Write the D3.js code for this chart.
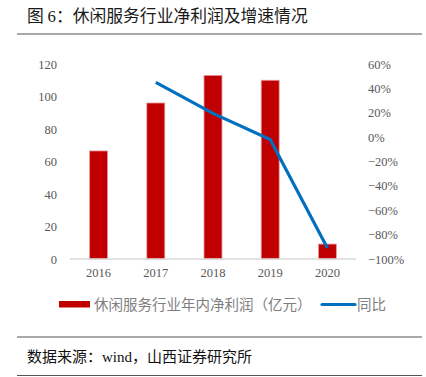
<!DOCTYPE html>
<html>
<head>
<meta charset="utf-8">
<script src="https://cdn.jsdelivr.net/npm/d3@7"></script>
<style>
  body { margin: 0; background: #fff; }
  .tick text { font-family: "Liberation Serif", "DejaVu Serif", serif; font-size: 12.5px; fill: #595959; }
  .cn { font-family: "Noto Sans CJK SC", sans-serif; }
</style>
</head>
<body>
<div id="chart"></div>
<script>
// data
var years = ["2016", "2017", "2018", "2019", "2020"];
var profit = [66.5, 96, 113, 110, 9.2];        // 亿元
var yoy = [null, 45, 19.5, -2, -91];            // %
var leftTicks = [0, 20, 40, 60, 80, 100, 120];
var rightTicks = [-100, -80, -60, -40, -20, 0, 20, 40, 60];

var W = 426, H = 377;
var margin = {top: 64, right: 70, bottom: 118, left: 70},
    width = 356 - margin.left,
    height = 259 - margin.top;

var svg = d3.select("#chart").append("svg")
    .attr("width", W).attr("height", H);

// title + rules
var title = svg.append("text").attr("class", "cn")
    .attr("x", 27).attr("y", 22)
    .style("font-size", "16.8px").style("fill", "#1a1a1a");
title.append("tspan").text("图 ");
title.append("tspan").style("font-family", "'Liberation Serif', serif").text("6");
title.append("tspan").text("：休闲服务行业净利润及增速情况");
svg.append("line").attr("x1", 17).attr("x2", 422).attr("y1", 34).attr("y2", 34)
    .style("stroke", "#555").style("stroke-width", 1.2);
svg.append("line").attr("x1", 17).attr("x2", 422).attr("y1", 337).attr("y2", 337)
    .style("stroke", "#555").style("stroke-width", 1.2);
svg.append("line").attr("x1", 17).attr("x2", 422).attr("y1", 375.5).attr("y2", 375.5)
    .style("stroke", "#555").style("stroke-width", 1.2);
var src = svg.append("text").attr("class", "cn")
    .attr("x", 27).attr("y", 362)
    .style("font-size", "15px").style("fill", "#111");
src.append("tspan").text("数据来源：");
src.append("tspan").style("font-family", "'Liberation Serif', serif").text("wind");
src.append("tspan").text("，山西证券研究所");

var g = svg.append("g")
    .attr("transform", "translate(" + margin.left + "," + margin.top + ")");

var x = d3.scaleBand().domain(years).range([0, width]).paddingInner(0.686).paddingOuter(0.343);
var y = d3.scaleLinear().domain([0, 120]).range([height, 0]);
var y2 = d3.scaleLinear().domain([-100, 60]).range([height, 0]);

// bars
g.selectAll(".bar").data(profit).enter().append("rect")
    .attr("class", "bar")
    .attr("x", function(d, i) { return x(years[i]); })
    .attr("width", x.bandwidth())
    .attr("y", function(d) { return y(d); })
    .attr("height", function(d) { return height - y(d); })
    .style("fill", "#C00000")
    .style("stroke", "#e79a9a").style("stroke-width", 0.8);

// x axis baseline
g.append("line").attr("x1", 0).attr("x2", width).attr("y1", height).attr("y2", height)
    .style("stroke", "#d9d9d9").style("stroke-width", 1.5);

// left axis
var la = g.append("g").call(d3.axisLeft(y).tickValues(leftTicks).tickSize(0).tickPadding(13));
la.select(".domain").remove();

// right axis
var ra = g.append("g").attr("transform", "translate(" + width + ",0)")
    .call(d3.axisRight(y2).tickValues(rightTicks).tickSize(0).tickPadding(12)
      .tickFormat(function(d) { return (d < 0 ? "\u2212" + (-d) : d) + "%"; }));
ra.select(".domain").remove();

// bottom axis labels
var ba = g.append("g").attr("transform", "translate(0," + height + ")")
    .call(d3.axisBottom(x).tickSize(0).tickPadding(9));
ba.select(".domain").remove();

// yoy line
var line = d3.line()
    .defined(function(d) { return d != null; })
    .x(function(d, i) { return x(years[i]) + x.bandwidth() / 2; })
    .y(function(d) { return y2(d); });
g.append("path").datum(yoy)
    .attr("d", line)
    .style("fill", "none").style("stroke", "#0070C0").style("stroke-width", 3.2)
    .style("stroke-linejoin", "round");

// legend
var lg = svg.append("g");
lg.append("rect").attr("x", 59).attr("y", 301).attr("width", 31).attr("height", 6.5).style("fill", "#C00000");
lg.append("text").attr("class", "cn").attr("x", 94).attr("y", 309.5)
    .style("font-size", "14.5px").style("fill", "#7f7f7f")
    .text("休闲服务行业年内净利润（亿元）");
lg.append("line").attr("x1", 322).attr("x2", 355).attr("y1", 304.5).attr("y2", 304.5)
    .style("stroke", "#0070C0").style("stroke-width", 3.2).style("stroke-linecap", "round");
lg.append("text").attr("class", "cn").attr("x", 357).attr("y", 309.5)
    .style("font-size", "14.5px").style("fill", "#7f7f7f")
    .text("同比");
</script>
</body>
</html>
